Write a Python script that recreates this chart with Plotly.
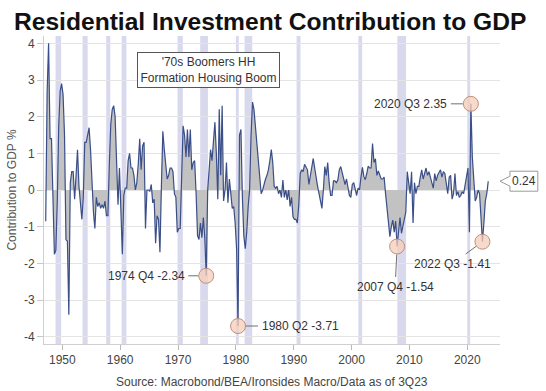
import plotly.graph_objects as go

# ---------------- data ----------------
start_year = 1947  # first quarter = 1947 Q1
contrib = [
    # 1947
    -0.85, 2.7, 4.0, 1.4,
    # 1948
    1.4, -0.3, -1.75, -1.65,
    # 1949
    -0.3, 1.75, 2.7, 2.9,
    # 1950
    2.6, 1.5, -1.35, -1.4,
    # 1951
    -3.4, 0.2, 0.5, 0.5,
    # 1952
    -0.25, 0.4, 1.1, 0.1,
    # 1953
    -0.35, -0.8, -0.2, 1.3,
    # 1954
    1.3, 1.5, 1.7, 1.1,
    # 1955
    0.1, -0.6, -1.05, -0.2,
    # 1956
    -0.45, -0.35, -0.5, -0.4,
    # 1957
    -0.5, -0.3, -0.7, -0.7,
    # 1958
    0.7, 1.8, 2.2, 2.3,
    # 1959
    2.0, 0.7, -0.4, 0.6,
    # 1960
    -0.6, -1.75, -0.15, 0.05,
    # 1961
    0.05, 0.8, 1.0, 0.6,
    # 1962
    0.6, 0.4, 0.0, 0.2,
    # 1963
    0.7, 1.4, 0.55, 1.2,
    # 1964
    1.3, -1.05, 0.0, 0.0,
    # 1965
    -0.03, 0.15, -0.35, -0.25,
    # 1966
    -1.45, -0.7, -0.8, -1.7,
    # 1967
    0.1, 1.6, 1.1, 0.75,
    # 1968
    0.3, 0.4, 0.6, 0.6,
    # 1969
    0.5, -0.1, -0.2, -1.15,
    # 1970
    -1.05, -1.05, 0.6, 1.75,
    # 1971
    1.5, 0.9, 1.65, 0.9,
    # 1972
    1.65, 0.55, 0.75, 0.8,
    # 1973
    -0.1, -1.25, -1.35, -0.9,
    # 1974
    -1.3, -0.75, -1.3, -2.34,
    # 1975
    0.0, 0.6, 1.1, 0.8,
    # 1976
    1.4, 1.85, 1.0, -0.25,
    # 1977
    2.2, 0.4, 2.3, -0.3,
    # 1978
    0.0, 0.75, -0.35, 0.3,
    # 1979
    -0.1, -0.5, -0.45, -0.9,
    # 1980
    -1.6, -3.71, 1.5, 1.65,
    # 1981
    -0.2, -1.25, -1.6, -1.15,
    # 1982
    -0.45, 0.0, 1.5, 2.4,
    # 1983
    2.2, 1.75, 1.2, 0.7,
    # 1984
    0.4, -0.1, 0.0, 0.2,
    # 1985
    0.3, 0.4, 0.55, 0.8,
    # 1986
    1.1, 0.75, 0.1, 0.05,
    # 1987
    0.1, -0.1, 0.0, -0.2,
    # 1988
    0.27, -0.2, 0.0, -0.27,
    # 1989
    0.0, -0.45, -0.2, -0.73,
    # 1990
    -0.8, -0.8, -0.9, -0.4,
    # 1991
    0.45, 0.55, 0.5, 0.7,
    # 1992
    0.64, 0.55, 0.15, 0.4,
    # 1993
    0.64, 0.86, 0.6, 0.3,
    # 1994
    0.1, -0.1, -0.3, -0.5,
    # 1995
    0.0, 0.64, 0.4, 0.75,
    # 1996
    0.2, -0.15, -0.15, 0.25,
    # 1997
    0.25, 0.2, 0.27, 0.55,
    # 1998
    0.64, 0.45, 0.3, 0.15,
    # 1999
    0.3, 0.0, -0.15, -0.2,
    # 2000
    0.15, 0.2, 0.0, -0.15,
    # 2001
    0.05, 0.0, 0.35, 0.62,
    # 2002
    0.37, 0.28, 0.45, 0.65,
    # 2003
    0.6, 0.6, 1.27, 0.75,
    # 2004
    0.85, 0.4, 0.52, 0.43,
    # 2005
    0.3, 0.3, 0.35, -0.1,
    # 2006
    -0.5, -0.8, -1.27, -1.0,
    # 2007
    -0.82, -1.15, -0.85, -1.54,
    # 2008
    -1.2, -0.75, -1.18, -1.0,
    # 2009
    -0.85, -0.6, 0.5, 0.15,
    # 2010
    -0.1, 0.5, -0.9, 0.2,
    # 2011
    -0.1, 0.1, 0.1, 0.35,
    # 2012
    0.55, 0.3, 0.5, 0.6,
    # 2013
    0.4, 0.5, 0.35, 0.2,
    # 2014
    0.05, 0.45, 0.25, 0.4,
    # 2015
    0.5, 0.55, 0.35, 0.5,
    # 2016
    0.45, 0.1, -0.1, 0.35,
    # 2017
    0.4, -0.25, -0.1, 0.45,
    # 2018
    -0.15, -0.05, -0.2, -0.15,
    # 2019
    -0.05, -0.1, 0.15, 0.3,
    # 2020
    0.6, -1.15, 2.35, 0.9,
    # 2021
    0.3, -0.3, -0.2, 0.0,
    # 2022
    -0.1, -0.7, -1.41, -0.9,
    # 2023
    -0.3, -0.1, 0.24,
]

# NBER recessions (fractional years)
rec_start = [1948.83, 1953.50, 1957.58, 1960.25, 1969.92, 1973.83,
             1980.00, 1981.50, 1990.50, 2001.17, 2007.92, 2020.00]
rec_end = [1949.79, 1954.37, 1958.29, 1961.08, 1970.83, 1975.17,
           1980.50, 1982.83, 1991.17, 2001.83, 2009.42, 2020.50]

# highlighted quarters: (year, quarter, label)
hl_year = [1974, 1980, 2007, 2020, 2022]
hl_quarter = [4, 2, 4, 3, 3]
hl_label = ["1974 Q4 -2.34", "1980 Q2 -3.71", "2007 Q4 -1.54",
            "2020 Q3 2.35", "2022 Q3 -1.41"]

x_ticks = [1950, 1960, 1970, 1980, 1990, 2000, 2010, 2020]
y_ticks = [-4, -3, -2, -1, 0, 1, 2, 3, 4]

box_text = "'70s Boomers HH<br>Formation Housing Boom"
source_text = "Source: Macrobond/BEA/Ironsides Macro/Data as of 3Q23"
title_text = "Residential Investment Contribution to GDP"

# ---------------- figure ----------------
x = [start_year + (i + 0.5) / 4 for i in range(len(contrib))]

LINE = "#3a4e88"
FONT = "Liberation Sans, Arial, sans-serif"
YMIN, YMAX = -4.2, 4.2

fig = go.Figure()

fig.add_trace(go.Scatter(
    x=x, y=contrib, mode="lines",
    line=dict(color=LINE, width=1.2),
    fill="tozeroy", fillcolor="#c2c2c2",
    hoverinfo="skip",
))

hx, hy = [], []
for yr, q in zip(hl_year, hl_quarter):
    idx = (yr - start_year) * 4 + (q - 1)
    hx.append(x[idx])
    hy.append(contrib[idx])

fig.add_trace(go.Scatter(
    x=hx, y=hy, mode="markers",
    marker=dict(size=15, color="rgba(246,206,186,0.75)",
                line=dict(color="#c0907c", width=1)),
    hoverinfo="skip",
))

shapes = []
for s, e in zip(rec_start, rec_end):
    shapes.append(dict(type="rect", xref="x", yref="paper", x0=s, x1=e,
                       y0=0, y1=1, fillcolor="#d9d9ee", line=dict(width=0),
                       layer="below"))

# callout for last value
last = contrib[-1]
def py(v):
    return (v - YMIN) / (YMAX - YMIN)
PW = 458.0
def px(p):
    return (p - 42.0) / PW
hb = 10 / 308.0
hn = 5 / 308.0
yl = py(last)
path = (f"M {px(500)},{yl} L {px(510)},{yl + hn} L {px(510)},{yl + hb} "
        f"L {px(538)},{yl + hb} L {px(538)},{yl - hb} L {px(510)},{yl - hb} "
        f"L {px(510)},{yl - hn} Z")
shapes.append(dict(type="path", xref="paper", yref="paper", path=path,
                   line=dict(color="#9a9a9a", width=1), fillcolor="white"))

annotations = []
# label offsets (pixels) for each highlight
offs = [(-60, 0), (62, 0), (-2, 41), (-60, 0), (-30, 22)]
for xx, yy, lab, (ax, ay) in zip(hx, hy, hl_label, offs):
    annotations.append(dict(
        x=xx, y=yy, xref="x", yref="y", text=lab, showarrow=True,
        arrowhead=0, arrowwidth=1, arrowcolor="#707070", ax=ax, ay=ay,
        standoff=8, startstandoff=2,
        font=dict(family=FONT, size=12, color="#333333"),
    ))

annotations.append(dict(
    xref="paper", yref="paper", x=px(207.5), y=(344 - 70) / 308.0,
    text=box_text, showarrow=False, align="center",
    font=dict(family=FONT, size=12, color="#333333"),
    bordercolor="#555555", borderwidth=1, borderpad=2, bgcolor="white",
    width=137, height=30, xanchor="center", yanchor="middle",
))

annotations.append(dict(
    xref="paper", yref="paper", x=px(524), y=yl, text=f"{last:.2f}",
    showarrow=False, xanchor="center", yanchor="middle",
    font=dict(family=FONT, size=12, color="#333333"),
))

annotations.append(dict(
    xref="paper", yref="paper", x=px(271), y=(344 - 382) / 308.0,
    text=source_text, showarrow=False, xanchor="center", yanchor="middle",
    font=dict(family=FONT, size=12, color="#444444"),
))

fig.update_layout(
    width=546, height=391,
    margin=dict(l=42, r=46, t=36, b=47),
    paper_bgcolor="white", plot_bgcolor="white",
    showlegend=False,
    font=dict(family=FONT, size=12, color="#444444"),
    title=dict(text=title_text, x=14 / 546, xanchor="left", xref="container",
               y=1 - 21 / 391, yanchor="middle", yref="container",
               font=dict(family=FONT, size=24.6, color="#111111", weight="bold")),
    shapes=shapes,
    annotations=annotations,
    xaxis=dict(range=[1946.83, 2025.66], tickvals=x_ticks,
               ticktext=[str(t) for t in x_ticks],
               ticks="outside", ticklen=5, tickcolor="#b8b8b8",
               showgrid=False, zeroline=False, showline=True,
               linecolor="#d0d0d0", linewidth=1,
               tickfont=dict(family=FONT, size=12, color="#444444")),
    yaxis=dict(range=[YMIN, YMAX], tickvals=y_ticks,
               ticktext=[str(t) for t in y_ticks],
               ticks="outside", ticklen=6, tickcolor="#c8c8c8",
               showgrid=True, gridcolor="#e4e4e4", gridwidth=1,
               zeroline=False, showline=True, linecolor="#d0d0d0",
               tickfont=dict(family=FONT, size=12, color="#444444"),
               title=dict(text="Contribution to GDP %", standoff=4,
                          font=dict(family=FONT, size=12, color="#555555"))),
)

fig.write_html("out.html",
               config={"displayModeBar": False},
               post_script="document.body.style.margin='0';document.body.style.padding='0';")
